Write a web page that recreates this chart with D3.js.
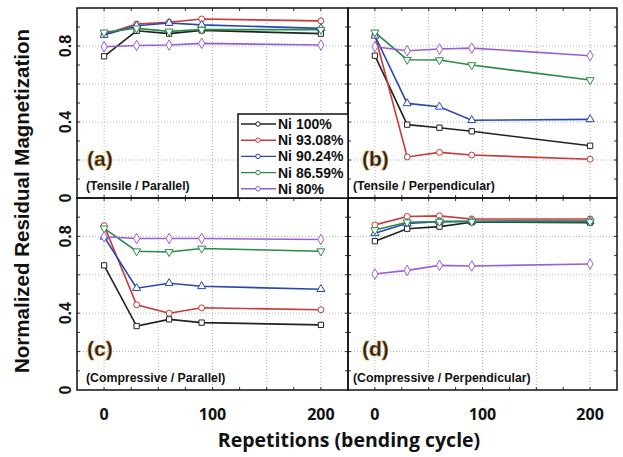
<!DOCTYPE html>
<html>
<head>
<meta charset="utf-8">
<script src="https://cdn.jsdelivr.net/npm/d3@7"></script>
<style>
  body { margin: 0; background: #fff; }
  svg { display: block; }
</style>
</head>
<body>
<div id="chart"></div>
<script>
// cycles measured
var cycles = [0, 30, 60, 90, 200];
var seriesNames = ["Ni 100%", "Ni 93.08%", "Ni 90.24%", "Ni 86.59%", "Ni 80%"];
var seriesColors = ["#222222", "#c83a3a", "#2748b0", "#2a8a48", "#9a5fd2"];
var seriesSymbols = [d3.symbolSquare, d3.symbolCircle, d3.symbolTriangle, d3.symbolTriangle, d3.symbolDiamond];

// values per panel, one row per series (same order as seriesNames)
var tensileParallel = [
  [0.746, 0.88, 0.865, 0.882, 0.865],
  [0.862, 0.916, 0.925, 0.942, 0.932],
  [0.858, 0.907, 0.921, 0.911, 0.893],
  [0.872, 0.893, 0.877, 0.886, 0.886],
  [0.796, 0.803, 0.805, 0.814, 0.805]
];
var tensilePerpendicular = [
  [0.749, 0.386, 0.37, 0.351, 0.275],
  [0.858, 0.216, 0.24, 0.226, 0.204],
  [0.854, 0.498, 0.48, 0.409, 0.414],
  [0.872, 0.728, 0.726, 0.70, 0.621],
  [0.796, 0.775, 0.784, 0.789, 0.749]
];
var compressiveParallel = [
  [0.649, 0.333, 0.368, 0.351, 0.339],
  [0.856, 0.444, 0.40, 0.428, 0.418],
  [0.798, 0.53, 0.556, 0.54, 0.525],
  [0.842, 0.723, 0.719, 0.737, 0.723],
  [0.798, 0.789, 0.789, 0.789, 0.784]
];
var compressivePerpendicular = [
  [0.775, 0.84, 0.851, 0.874, 0.872],
  [0.86, 0.904, 0.907, 0.891, 0.891],
  [0.816, 0.868, 0.877, 0.879, 0.88],
  [0.833, 0.874, 0.877, 0.877, 0.877],
  [0.604, 0.623, 0.649, 0.646, 0.656]
];

var xTickLabels = [0, 100, 200];
var yTickLabels = [0, 0.4, 0.8];

var width = 623, height = 457;
var svg = d3.select("#chart").append("svg")
  .attr("width", width)
  .attr("height", height);

var panels = [
  { tag: "(a)", name: "(Tensile / Parallel)", data: tensileParallel, x0: 77, x1: 348, y0: 8, y1: 198, col: 0, row: 0 },
  { tag: "(b)", name: "(Tensile / Perpendicular)", data: tensilePerpendicular, x0: 348, x1: 617, y0: 8, y1: 198, col: 1, row: 0 },
  { tag: "(c)", name: "(Compressive / Parallel)", data: compressiveParallel, x0: 77, x1: 348, y0: 198, y1: 390, col: 0, row: 1 },
  { tag: "(d)", name: "(Compressive / Perpendicular)", data: compressivePerpendicular, x0: 348, x1: 617, y0: 198, y1: 390, col: 1, row: 1 }
];

panels.forEach(function (p) {
  var x = d3.scaleLinear().domain([-25, 225]).range([p.x0, p.x1]);
  var y = d3.scaleLinear().domain([0, 1]).range([p.y1, p.y0]);
  var g = svg.append("g");

  // dotted grid
  g.selectAll(".vgrid").data(d3.range(0, 201, 50)).enter().append("line")
    .attr("x1", d => x(d)).attr("x2", d => x(d))
    .attr("y1", p.y0).attr("y2", p.y1)
    .attr("stroke", "#b0b0b0").attr("stroke-width", 1)
    .attr("stroke-dasharray", "1,2");
  g.selectAll(".hgrid").data([0.2, 0.4, 0.6, 0.8]).enter().append("line")
    .attr("x1", p.x0).attr("x2", p.x1)
    .attr("y1", d => y(d)).attr("y2", d => y(d))
    .attr("stroke", "#b0b0b0").attr("stroke-width", 1)
    .attr("stroke-dasharray", "1,2");

  // inward ticks
  var xt = d3.range(0, 201, 25);
  g.selectAll(".tt").data(xt).enter().append("line")
    .attr("x1", d => x(d)).attr("x2", d => x(d))
    .attr("y1", p.y0).attr("y2", p.y0 + 3)
    .attr("stroke", "#333");
  g.selectAll(".bt").data(xt).enter().append("line")
    .attr("x1", d => x(d)).attr("x2", d => x(d))
    .attr("y1", p.y1).attr("y2", p.y1 - 3)
    .attr("stroke", "#333");
  var yt = d3.range(1, 10).map(d => d / 10);
  g.selectAll(".lt").data(yt).enter().append("line")
    .attr("x1", p.x0).attr("x2", p.x0 + 3)
    .attr("y1", d => y(d)).attr("y2", d => y(d))
    .attr("stroke", "#333");
  g.selectAll(".rt").data(yt).enter().append("line")
    .attr("x1", p.x1).attr("x2", p.x1 - 3)
    .attr("y1", d => y(d)).attr("y2", d => y(d))
    .attr("stroke", "#333");

  // series lines + markers
  var line = d3.line().x((d, i) => x(cycles[i])).y(d => y(d));
  p.data.forEach(function (vals, s) {
    g.append("path")
      .attr("d", line(vals))
      .attr("fill", "none")
      .attr("stroke", seriesColors[s])
      .attr("stroke-width", 1.6);
    g.selectAll(".m" + s).data(vals).enter().append("path")
      .attr("d", d3.symbol().type(seriesSymbols[s]).size(s == 4 ? 32 : 28))
      .attr("transform", function (d, i) {
        return "translate(" + x(cycles[i]) + "," + y(d) + ")" + (s == 3 ? " rotate(180)" : "");
      })
      .attr("fill", "#fff")
      .attr("stroke", seriesColors[s])
      .attr("stroke-width", 1);
  });

  // panel labels
  g.append("text")
    .attr("x", p.x0 + (p.col == 0 ? 10 : 14))
    .attr("y", p.row == 0 ? 166 : 356)
    .attr("font-family", "Liberation Sans, Arial, sans-serif")
    .attr("font-weight", "bold")
    .attr("font-size", 21)
    .attr("fill", "#2a2418")
    .attr("stroke", "#c98a2a")
    .attr("stroke-width", 0.5)
    .text(p.tag);
  g.append("text")
    .attr("x", p.x0 + (p.col == 0 ? 9 : 5))
    .attr("y", p.row == 0 ? 190 : 382)
    .attr("font-family", "Liberation Sans, Arial, sans-serif")
    .attr("font-weight", "bold")
    .attr("font-size", 12.3)
    .attr("fill", "#111")
    .text(p.name);

  // frame
  g.append("rect")
    .attr("x", p.x0).attr("y", p.y0)
    .attr("width", p.x1 - p.x0).attr("height", p.y1 - p.y0)
    .attr("fill", "none").attr("stroke", "#111").attr("stroke-width", 1.5);

  // y tick labels (rotated) on left column
  if (p.col == 0) {
    g.selectAll(".yl").data(yTickLabels).enter().append("text")
      .attr("transform", d => "translate(71," + y(d) + ") rotate(-90)")
      .attr("text-anchor", "middle")
      .attr("font-family", "Liberation Sans, Arial, sans-serif")
      .attr("font-weight", "bold")
      .attr("font-size", 16)
      .attr("fill", "#111")
      .text(d => d);
  }
  // x tick labels on bottom row
  if (p.row == 1) {
    g.selectAll(".xl").data(xTickLabels).enter().append("text")
      .attr("x", d => x(d))
      .attr("y", 420)
      .attr("text-anchor", "middle")
      .attr("font-family", "Open Sans, Noto Sans, sans-serif")
      .attr("font-weight", "bold")
      .attr("font-size", 16)
      .attr("fill", "#111")
      .text(d => d);
  }
});

// legend in panel (a)
var lg = svg.append("g");
lg.append("rect")
  .attr("x", 238).attr("y", 114)
  .attr("width", 110).attr("height", 84)
  .attr("fill", "#fff").attr("stroke", "#111").attr("stroke-width", 1.5);
seriesNames.forEach(function (name, s) {
  var ly = 124 + s * 16.2;
  lg.append("line")
    .attr("x1", 241).attr("x2", 276)
    .attr("y1", ly).attr("y2", ly)
    .attr("stroke", seriesColors[s]).attr("stroke-width", 1.4);
  lg.append("path")
    .attr("d", d3.symbol().type(d3.symbolCircle).size(16))
    .attr("transform", "translate(258," + ly + ")")
    .attr("fill", "#fff").attr("stroke", seriesColors[s]);
  lg.append("text")
    .attr("x", 278).attr("y", ly + 5)
    .attr("font-family", "Liberation Sans, Arial, sans-serif")
    .attr("font-weight", "bold")
    .attr("font-size", 14)
    .attr("fill", "#111")
    .text(name);
});

// axis titles
svg.append("text")
  .attr("transform", "translate(29,201) rotate(-90)")
  .attr("text-anchor", "middle")
  .attr("font-family", "Liberation Sans, Arial, sans-serif")
  .attr("font-weight", "bold")
  .attr("font-size", 20.5)
  .attr("fill", "#111")
  .text("Normalized Residual Magnetization");
svg.append("text")
  .attr("x", 349).attr("y", 447)
  .attr("text-anchor", "middle")
  .attr("font-family", "Open Sans, Noto Sans, sans-serif")
  .attr("font-weight", "bold")
  .attr("font-size", 19.5)
  .attr("fill", "#111")
  .text("Repetitions (bending cycle)");
</script>
</body>
</html>
